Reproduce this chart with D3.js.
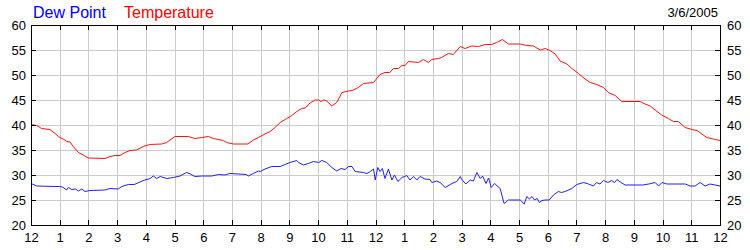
<!DOCTYPE html>
<html>
<head>
<meta charset="utf-8">
<script src="https://cdn.jsdelivr.net/npm/d3@7"></script>
<style>
  html, body { margin: 0; padding: 0; background: #fff; }
  svg { display: block; font-family: "Liberation Sans", Arial, sans-serif; }
</style>
</head>
<body>
<svg id="chart" width="750" height="250"></svg>
<script>
const hourLabels = ["12","1","2","3","4","5","6","7","8","9","10","11","12","1","2","3","4","5","6","7","8","9","10","11","12"];
const yTicks = [20,25,30,35,40,45,50,55,60];
const dateLabel = "3/6/2005";
const seriesNames = ["Dew Point", "Temperature"];

const tempHours = [0,0.2,0.37,0.66,0.84,0.95,1.18,1.25,1.36,1.47,1.65,1.82,2.0,2.58,2.75,2.93,3.1,3.28,3.45,3.68,3.91,4.15,4.55,4.73,4.84,5.02,5.48,5.71,5.95,6.18,6.35,6.7,6.82,7.05,7.55,7.75,7.92,8.15,8.33,8.5,8.68,8.91,9.08,9.26,9.43,9.55,9.72,9.9,10.02,10.1,10.2,10.3,10.48,10.65,10.83,11.06,11.23,11.4,11.58,11.93,12.16,12.33,12.5,12.62,12.8,12.92,13.03,13.15,13.5,13.67,13.84,13.96,14.19,14.3,14.54,14.71,14.95,15.12,15.35,15.59,15.82,16.05,16.22,16.42,16.63,17.04,17.27,17.5,17.74,17.91,18.08,18.26,18.43,18.67,18.84,19.07,19.3,19.48,19.71,19.94,20.11,20.35,20.58,21.22,21.39,21.57,21.74,21.97,22.2,22.38,22.55,22.79,23.02,23.2,23.54,23.77,24.0];
const tempValues = [40.1,39.9,39.3,39.1,38.3,37.7,37.0,36.7,36.6,35.7,34.5,34.0,33.4,33.3,33.7,33.9,33.9,34.5,34.9,35.0,35.7,36.1,36.2,36.5,37.0,37.7,37.7,37.3,37.5,37.7,37.3,36.9,36.5,36.2,36.2,37.0,37.5,38.2,38.7,39.5,40.5,41.3,41.9,42.7,43.3,43.4,44.4,45.0,45.0,44.7,45.0,44.8,43.8,44.5,46.5,46.8,47.0,47.5,48.3,48.5,50.1,50.5,50.5,51.3,51.3,51.9,51.9,52.7,52.5,53.1,52.5,53.1,53.3,53.5,54.3,54.1,55.7,55.3,55.8,55.7,56.1,56.1,56.5,57.1,56.2,56.2,55.9,55.8,55.0,55.3,54.9,54.2,52.8,52.2,51.3,50.3,49.2,48.5,48.1,47.5,46.5,45.9,44.7,44.7,44.2,43.8,43.0,42.0,41.3,40.7,40.7,39.5,39.1,38.9,37.5,37.2,36.9];

const dewHours = [0,0.2,0.84,1.0,1.1,1.24,1.3,1.42,1.55,1.65,1.77,1.88,2.05,2.58,2.75,3.04,3.16,3.39,3.6,3.91,4.15,4.26,4.38,4.5,4.73,4.96,5.19,5.42,5.55,5.71,5.95,6.3,6.53,6.75,6.93,7.5,7.57,7.74,7.92,7.99,8.15,8.39,8.68,8.85,9.02,9.26,9.32,9.49,9.66,9.84,10.02,10.13,10.3,10.48,10.65,10.8,10.94,11.06,11.18,11.29,11.58,11.7,11.82,11.93,11.99,12.08,12.16,12.24,12.33,12.45,12.57,12.66,12.78,12.92,13.09,13.2,13.32,13.44,13.55,13.72,13.9,13.96,14.13,14.25,14.43,14.66,14.83,14.95,15.02,15.15,15.3,15.41,15.53,15.65,15.73,15.85,15.94,16.03,16.15,16.34,16.48,16.63,17.04,17.18,17.27,17.36,17.45,17.54,17.63,17.71,17.8,17.91,18.05,18.2,18.37,18.48,18.6,18.84,19.01,19.25,19.42,19.59,19.7,19.82,19.94,20.1,20.22,20.33,20.41,20.55,20.7,21.3,21.52,21.74,21.86,21.98,22.15,22.79,22.96,23.13,23.31,23.48,23.65,23.83,24.0];
const dewValues = [28.3,27.8,27.7,27.7,27.6,27.0,27.5,27.1,27.2,26.8,27.2,26.7,26.9,27.0,27.3,27.2,27.7,28.1,28.1,28.9,29.3,29.8,29.3,29.7,29.3,29.5,29.8,30.5,30.2,29.7,29.8,29.8,30.1,30.0,30.3,30.1,29.8,30.3,30.8,30.7,31.2,31.7,31.7,32.1,32.5,32.9,32.5,32.0,32.3,32.7,32.5,32.9,32.5,31.5,30.8,31.3,31.1,31.7,31.7,30.7,30.5,30.3,30.7,31.2,29.0,31.5,30.7,31.3,29.3,31.2,29.0,30.0,28.7,29.5,29.9,29.0,29.7,29.0,29.7,29.2,29.1,28.5,28.8,28.5,27.5,28.3,28.7,29.7,29.0,28.2,29.0,28.8,30.5,29.3,29.8,28.3,29.4,27.5,28.3,27.3,24.3,25.0,25.0,24.2,25.7,25.2,25.7,25.0,25.3,24.5,24.9,25.0,25.0,26.0,26.7,26.5,26.7,27.3,28.1,28.5,28.2,27.8,28.5,28.2,28.9,28.5,28.9,28.5,29.1,28.5,28.0,28.0,28.2,28.5,27.8,28.5,28.2,28.2,27.8,27.8,28.5,27.8,28.2,28.0,27.8];

const W = 750, H = 250;
const m = { left: 31, right: 30, top: 25, bottom: 25 };
const svg = d3.select("#chart");

const x = d3.scaleLinear().domain([0, 24]).range([m.left, W - m.right]);
const y = d3.scaleLinear().domain([20, 60]).range([H - m.bottom, m.top]);
const hourTicks = d3.range(0, 25);

// grid
const grid = svg.append("g").attr("stroke", "#cccccc").attr("stroke-width", 1).attr("shape-rendering", "crispEdges");
grid.selectAll(".vg").data(hourTicks.slice(1, -1)).join("line")
  .attr("x1", d => Math.round(x(d)) + 0.5).attr("x2", d => Math.round(x(d)) + 0.5)
  .attr("y1", y(60)).attr("y2", y(20));
grid.selectAll(".hg").data(yTicks.slice(1, -1)).join("line")
  .attr("y1", d => Math.round(y(d)) + 0.5).attr("y2", d => Math.round(y(d)) + 0.5)
  .attr("x1", x(0)).attr("x2", x(24));

// series
const line = d3.line().x(d => x(d[0])).y(d => y(d[1]));
const dewData = dewHours.map((h, i) => [h, dewValues[i]]);
const tempData = tempHours.map((h, i) => [h, tempValues[i]]);
svg.append("path").datum(dewData).attr("d", line).attr("fill", "none").attr("stroke", "#1f1fff").attr("stroke-width", 1);
svg.append("path").datum(tempData).attr("d", line).attr("fill", "none").attr("stroke", "#ff1010").attr("stroke-width", 1);

// axes
function styleAxis(g) {
  g.attr("font-family", "'Liberation Sans', Arial, sans-serif").attr("font-size", 13);
  g.selectAll(".domain").attr("stroke", "#000").attr("shape-rendering", "crispEdges");
  g.selectAll(".tick line").attr("stroke", "#000").attr("shape-rendering", "crispEdges");
  g.selectAll(".tick text").attr("fill", "#000");
}
const fmtH = i => hourLabels[i];
svg.append("g").attr("transform", `translate(0,${y(20)})`)
  .call(d3.axisBottom(x).tickValues(hourTicks).tickFormat(fmtH).tickSizeInner(-5).tickSizeOuter(0).tickPadding(8))
  .call(styleAxis);
svg.append("g").attr("transform", `translate(0,${y(60)})`)
  .call(d3.axisTop(x).tickValues(hourTicks).tickFormat("").tickSizeInner(-5).tickSizeOuter(0))
  .call(styleAxis);
svg.append("g").attr("transform", `translate(${x(0)},0)`)
  .call(d3.axisLeft(y).tickValues(yTicks).tickFormat(d3.format("d")).tickSizeInner(-5).tickSizeOuter(0).tickPadding(5))
  .call(styleAxis);
svg.append("g").attr("transform", `translate(${x(24)},0)`)
  .call(d3.axisRight(y).tickValues(yTicks).tickFormat(d3.format("d")).tickSizeInner(-5).tickSizeOuter(0).tickPadding(7))
  .call(styleAxis);

// legend & date
svg.append("text").attr("x", 33).attr("y", 18).attr("font-size", 16).attr("fill", "#0000ff").text(seriesNames[0]);
svg.append("text").attr("x", 124).attr("y", 18).attr("font-size", 16).attr("fill", "#ff0000").text(seriesNames[1]);
svg.append("text").attr("x", 718).attr("y", 17).attr("font-size", 13).attr("text-anchor", "end").attr("fill", "#000").text(dateLabel);
</script>
</body>
</html>
